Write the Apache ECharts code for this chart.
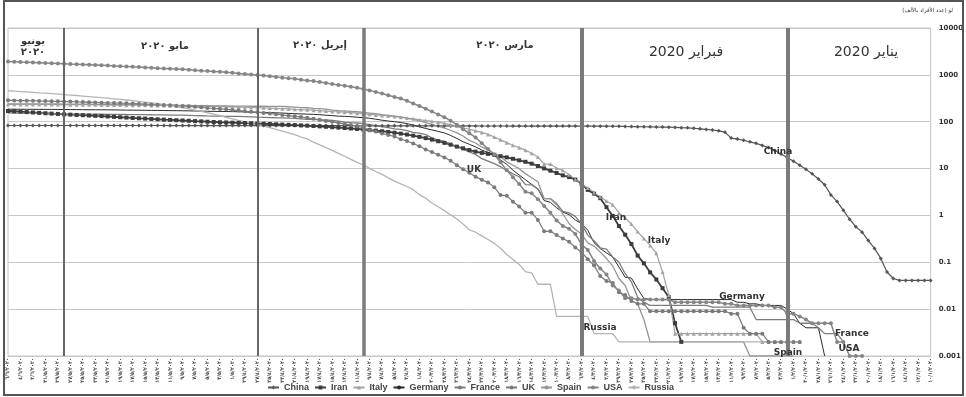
<!DOCTYPE html>
<html>
<head>
<meta charset="utf-8">
<script src="https://cdn.jsdelivr.net/npm/echarts@6/dist/echarts.min.js"></script>
<style>
  html, body { margin: 0; padding: 0; background: #fff; }
  #chart { width: 966px; height: 397px; }
</style>
</head>
<body>
<div id="chart"></div>
<script>
// cumulative confirmed cases, thousands, daily from 10 Jan 2020 to 6 Jun 2020 (149 days)
const START = new Date(2020, 0, 10);
const DAYS = 149;

const china = [
  // Jan 10-31
  0.041, 0.041, 0.041, 0.041, 0.041, 0.041, 0.045, 0.062, 0.121, 0.198, 0.291, 0.44, 0.571, 0.83, 1.287, 1.975, 2.744, 4.515, 5.974, 7.711, 9.692, 11.79,
  // Feb
  14.38, 17.21, 20.44, 24.32, 28.02, 31.16, 34.55, 37.2, 40.17, 42.64, 44.65, 59.8, 63.85, 66.49, 68.5, 70.55, 72.44, 74.19, 74.58, 75.47, 76.29, 76.94, 77.15, 77.66, 78.06, 78.5, 78.82, 79.25, 79.82,
  // Mar
  80.03, 80.15, 80.27, 80.41, 80.55, 80.65, 80.7, 80.74, 80.75, 80.78, 80.79, 80.81, 80.82, 80.84, 80.86, 80.88, 80.89, 80.93, 80.97, 81.01, 81.05, 81.09, 81.17, 81.22, 81.29, 81.34, 81.39, 81.44, 81.47, 81.52, 81.55,
  // Apr
  81.59, 81.62, 81.64, 81.67, 81.71, 81.74, 81.8, 81.87, 81.91, 81.95, 82.05, 82.16, 82.25, 82.3, 82.34, 82.37, 82.69, 82.72, 82.74, 82.75, 82.76, 82.79, 82.8, 82.8, 82.82, 82.83, 82.83, 82.84, 82.86, 82.86,
  // May
  82.87, 82.88, 82.88, 82.88, 82.88, 82.89, 82.89, 82.89, 82.9, 82.92, 82.92, 82.93, 82.93, 82.93, 82.94, 82.95, 82.95, 82.96, 82.97, 82.97, 82.97, 82.97, 82.99, 82.99, 82.99, 83.0, 83.0, 83.0, 83.0, 83.02, 83.02,
  // Jun 1-6
  83.02, 83.02, 83.03, 83.03, 83.03, 83.04
];

const iran = [
  null, null, null, null, null, null, null, null, null, null, null, null, null, null, null, null, null, null, null, null, null, null,
  null, null, null, null, null, null, null, null, null, null, null, null, null, null, null, null, null, null,
  0.002, 0.005, 0.018, 0.028, 0.043, 0.061, 0.095, 0.139, 0.245, 0.388, 0.593,
  0.978, 1.501, 2.336, 2.922, 3.513, 4.747, 5.823, 6.566, 7.161, 8.042, 9.0, 10.08, 11.36, 12.73, 13.94, 14.99, 16.17, 17.36, 18.41, 19.64, 20.61, 21.64, 23.05, 24.81, 27.02, 29.41, 32.33, 35.41, 38.31, 41.5, 44.61,
  47.59, 50.47, 53.18, 55.74, 58.23, 60.5, 62.59, 64.59, 66.22, 68.19, 70.03, 71.69, 73.3, 74.88, 76.39, 78.0, 79.49, 80.87, 82.21, 83.51, 84.8, 86.0, 87.03, 88.19, 89.33, 90.48, 91.47, 92.58, 93.66, 94.64,
  95.65, 96.45, 97.42, 98.65, 99.97, 101.7, 103.1, 104.7, 106.2, 107.6, 109.3, 110.8, 112.7, 114.5, 116.6, 118.4, 120.2, 122.5, 124.6, 126.9, 129.3, 131.7, 133.5, 135.7, 137.7, 139.5, 141.6, 143.8, 146.7, 149.0, 151.5,
  154.4, 157.6, 160.7, 164.3, 167.2, 169.4
];

const italy = [
  null, null, null, null, null, null, null, null, null, null, null, null, null, null, null, null, null, null, null, null, null, 0.002,
  0.002, 0.002, 0.002, 0.002, 0.002, 0.002, 0.003, 0.003, 0.003, 0.003, 0.003, 0.003, 0.003, 0.003, 0.003, 0.003, 0.003, 0.003, 0.003, 0.003, 0.02, 0.062, 0.155, 0.229, 0.322, 0.453, 0.655, 0.888, 1.128,
  1.694, 2.036, 2.502, 3.089, 3.858, 4.636, 5.883, 7.375, 9.172, 10.15, 12.46, 12.46, 17.66, 21.16, 24.75, 27.98, 31.51, 35.71, 41.04, 47.02, 53.58, 59.14, 63.93, 69.18, 74.39, 80.59, 86.5, 92.47, 97.69, 101.7, 105.8,
  110.6, 115.2, 119.8, 124.6, 128.9, 132.5, 135.6, 139.4, 143.6, 147.6, 152.3, 156.4, 159.5, 162.5, 165.2, 168.9, 172.4, 175.9, 179.0, 181.2, 184.0, 187.3, 190.0, 193.0, 195.4, 197.7, 199.4, 201.5, 203.6, 205.5,
  207.4, 209.3, 210.7, 211.9, 213.0, 214.5, 215.9, 217.2, 218.3, 219.1, 219.8, 221.2, 222.1, 223.1, 223.9, 224.8, 225.4, 225.9, 226.7, 227.4, 228.0, 228.7, 229.3, 229.9, 230.2, 230.6, 231.1, 231.7, 232.2, 232.7, 233.0,
  233.2, 233.5, 233.8, 234.0, 234.5, 234.8
];

const germany = [
  null, null, null, null, null, null, null, null, null, null, null, null, null, null, null, null, null, 0.001, 0.004, 0.004, 0.004, 0.005,
  0.008, 0.01, 0.012, 0.012, 0.012, 0.012, 0.013, 0.013, 0.014, 0.014, 0.016, 0.016, 0.016, 0.016, 0.016, 0.016, 0.016, 0.016, 0.016, 0.016, 0.016, 0.016, 0.016, 0.016, 0.017, 0.027, 0.046, 0.048, 0.079,
  0.13, 0.159, 0.196, 0.262, 0.482, 0.67, 0.799, 1.04, 1.176, 1.457, 1.908, 2.078, 3.675, 4.585, 5.795, 7.272, 9.257, 12.33, 15.32, 19.85, 22.21, 24.87, 29.06, 32.99, 37.32, 43.94, 50.87, 57.7, 62.1, 66.89, 71.81,
  77.87, 84.79, 91.16, 96.09, 100.1, 103.4, 107.7, 113.3, 118.2, 122.2, 124.9, 127.9, 130.1, 131.4, 134.8, 137.7, 141.4, 143.3, 145.2, 147.1, 148.3, 150.6, 153.1, 155.0, 156.5, 157.8, 158.8, 159.9, 161.5, 163.0,
  164.1, 165.0, 165.7, 166.2, 167.0, 168.2, 169.4, 170.6, 171.3, 171.9, 172.6, 173.2, 174.1, 174.5, 175.2, 175.8, 176.4, 176.6, 177.8, 178.5, 179.0, 179.7, 180.0, 180.3, 180.6, 181.2, 181.5, 182.2, 182.9, 183.2, 183.4,
  183.6, 183.9, 184.1, 184.5, 184.9, 185.5
];

const france = [
  null, null, null, null, null, null, null, null, null, null, null, null, null, null, 0.002, 0.003, 0.003, 0.003, 0.004, 0.005, 0.005, 0.005,
  0.006, 0.006, 0.006, 0.006, 0.006, 0.006, 0.006, 0.011, 0.011, 0.011, 0.011, 0.011, 0.011, 0.011, 0.012, 0.012, 0.012, 0.012, 0.012, 0.012, 0.012, 0.012, 0.012, 0.012, 0.014, 0.018, 0.038, 0.057, 0.1,
  0.13, 0.191, 0.204, 0.288, 0.38, 0.656, 0.957, 1.134, 1.217, 1.794, 2.293, 2.293, 3.681, 4.496, 4.532, 6.683, 7.715, 9.124, 10.97, 12.76, 14.46, 16.24, 20.12, 22.62, 25.6, 29.55, 33.4, 38.11, 40.71, 45.17, 52.83,
  56.9, 59.1, 64.3, 68.6, 70.5, 74.4, 78.2, 82.0, 86.3, 90.7, 93.8, 95.4, 98.0, 103.3, 106.2, 108.8, 110.0, 112.6, 113.0, 114.7, 118.0, 119.2, 120.6, 121.4, 122.6, 124.1, 125.0, 127.1, 128.3, 129.4,
  130.2, 130.2, 131.3, 131.9, 132.9, 134.0, 135.1, 137.2, 137.8, 138.4, 138.9, 139.5, 140.2, 140.7, 141.4, 141.9, 142.3, 142.4, 142.9, 143.4, 143.8, 144.2, 144.6, 144.9, 145.3, 145.6, 145.8, 146.1, 148.2, 149.1, 149.7,
  151.3, 151.8, 152.4, 153.1, 153.6, 154.2
];

const uk = [
  null, null, null, null, null, null, null, null, null, null, null, null, null, null, null, null, null, null, null, null, null, 0.002,
  0.002, 0.002, 0.002, 0.002, 0.002, 0.003, 0.003, 0.003, 0.004, 0.008, 0.008, 0.009, 0.009, 0.009, 0.009, 0.009, 0.009, 0.009, 0.009, 0.009, 0.009, 0.009, 0.009, 0.009, 0.013, 0.013, 0.015, 0.02, 0.023,
  0.036, 0.04, 0.051, 0.086, 0.116, 0.164, 0.207, 0.274, 0.322, 0.384, 0.459, 0.459, 0.802, 1.144, 1.145, 1.551, 1.96, 2.642, 2.716, 4.014, 5.067, 5.745, 6.726, 8.164, 9.64, 11.81, 14.75, 17.31, 19.78, 22.45, 25.48,
  29.87, 34.17, 38.69, 42.48, 48.44, 52.28, 55.95, 61.47, 65.87, 74.61, 79.87, 85.21, 89.57, 94.85, 99.48, 104.1, 109.8, 115.3, 121.2, 125.9, 130.2, 134.6, 139.2, 144.6, 149.6, 154.0, 158.3, 162.4, 166.4, 172.5,
  178.7, 183.5, 187.8, 191.8, 196.2, 202.4, 208.0, 212.6, 216.5, 220.4, 224.3, 227.7, 231.0, 234.4, 238.0, 241.5, 245.0, 247.7, 249.6, 250.9, 252.2, 255.5, 258.5, 260.9, 262.5, 266.6, 268.6, 270.5, 272.6, 274.2, 276.2,
  277.7, 279.9, 281.7, 281.7, 284.9, 286.3
];

const spain = [
  null, null, null, null, null, null, null, null, null, null, null, null, null, null, null, null, null, null, null, null, null, null,
  0.001, 0.001, 0.001, 0.001, 0.001, 0.001, 0.001, 0.001, 0.002, 0.002, 0.002, 0.002, 0.002, 0.002, 0.002, 0.002, 0.002, 0.002, 0.002, 0.002, 0.002, 0.002, 0.002, 0.002, 0.006, 0.013, 0.015, 0.032, 0.045,
  0.084, 0.12, 0.165, 0.222, 0.259, 0.4, 0.5, 0.673, 1.073, 1.695, 2.277, 2.277, 5.232, 6.391, 7.798, 9.942, 11.75, 13.91, 17.96, 20.41, 25.37, 28.6, 35.14, 39.89, 49.52, 57.79, 65.72, 73.24, 80.11, 87.96, 95.92,
  104.1, 112.1, 119.2, 126.2, 131.6, 136.7, 141.9, 148.2, 153.2, 158.3, 163.0, 166.8, 170.1, 172.5, 177.6, 184.9, 190.8, 191.7, 198.7, 200.2, 204.2, 208.4, 213.0, 213.2, 213.4, 213.6, 213.8, 214.0, 214.3, 214.6,
  215.2, 216.6, 217.5, 218.0, 219.3, 220.3, 221.4, 222.9, 223.6, 224.4, 227.4, 228.0, 228.7, 229.5, 230.2, 230.7, 230.7, 231.6, 232.0, 232.6, 233.0, 234.8, 235.3, 235.8, 235.8, 236.3, 236.3, 237.9, 238.6, 239.2, 239.5,
  239.6, 239.9, 240.3, 240.7, 241.0, 241.3
];

const usa = [
  null, null, null, null, null, null, null, null, null, null, null, 0.001, 0.001, 0.001, 0.002, 0.002, 0.005, 0.005, 0.005, 0.005, 0.006, 0.007,
  0.008, 0.008, 0.011, 0.011, 0.012, 0.012, 0.012, 0.012, 0.012, 0.012, 0.013, 0.013, 0.014, 0.014, 0.014, 0.014, 0.014, 0.014, 0.014, 0.014, 0.016, 0.016, 0.016, 0.016, 0.016, 0.016, 0.017, 0.017, 0.025,
  0.032, 0.055, 0.074, 0.107, 0.184, 0.237, 0.403, 0.519, 0.594, 0.782, 1.147, 1.586, 2.219, 2.978, 3.212, 4.679, 6.512, 9.169, 13.66, 20.03, 26.03, 34.86, 46.09, 56.71, 68.84, 86.66, 105.3, 124.7, 143.0, 164.6, 189.6,
  216.7, 245.5, 278.5, 312.2, 337.1, 368.2, 398.8, 432.1, 466.0, 500.4, 530.0, 557.6, 582.6, 609.5, 639.7, 671.3, 702.2, 735.1, 759.8, 787.8, 825.0, 842.6, 869.2, 905.4, 938.2, 965.8, 988.2, 1012.6, 1039.9, 1069.4,
  1103.5, 1132.5, 1158.0, 1180.4, 1204.4, 1229.3, 1257.0, 1283.9, 1309.6, 1329.3, 1347.9, 1369.4, 1390.4, 1417.8, 1442.8, 1467.8, 1486.8, 1508.3, 1528.6, 1551.9, 1577.1, 1600.9, 1622.6, 1643.2, 1662.3, 1680.9, 1699.2, 1721.9, 1747.1, 1770.2, 1790.2,
  1811.0, 1831.8, 1851.5, 1872.7, 1897.8, 1920.1
];

const russia = [
  null, null, null, null, null, null, null, null, null, null, null, null, null, null, null, null, null, null, null, null, null, 0.002,
  0.002, 0.002, 0.002, 0.002, 0.002, 0.002, 0.002, 0.002, 0.002, 0.002, 0.002, 0.002, 0.002, 0.002, 0.002, 0.002, 0.002, 0.002, 0.002, 0.002, 0.002, 0.002, 0.002, 0.002, 0.002, 0.002, 0.002, 0.002, 0.002,
  0.003, 0.003, 0.003, 0.003, 0.007, 0.007, 0.007, 0.007, 0.007, 0.007, 0.034, 0.034, 0.034, 0.059, 0.063, 0.09, 0.114, 0.147, 0.199, 0.253, 0.306, 0.367, 0.438, 0.495, 0.658, 0.84, 1.036, 1.264, 1.534, 1.836, 2.337,
  2.777, 3.548, 4.149, 4.731, 5.389, 6.343, 7.497, 8.672, 10.13, 11.92, 13.58, 15.77, 18.33, 21.1, 24.49, 27.94, 32.01, 36.79, 42.85, 47.12, 52.76, 58.0, 62.77, 68.62, 74.59, 80.95, 87.15, 93.56, 99.4, 106.5,
  114.4, 124.1, 134.7, 145.3, 155.4, 165.9, 177.2, 187.9, 198.7, 209.7, 221.3, 232.2, 242.3, 252.2, 262.8, 272.0, 281.8, 290.7, 299.9, 308.7, 317.6, 326.4, 335.9, 344.5, 353.4, 362.3, 370.7, 379.1, 387.6, 396.6, 405.8,
  414.3, 423.2, 431.7, 440.5, 449.3, 458.1
];

// month separators (category index) and y tick labels
const monthBreaks = [23, 56, 91, 108, 139];
const yTicks = ['0.001', '0.01', '0.1', '1', '10', '100', '1000', '10000'];

const AR = '٠١٢٣٤٥٦٧٨٩';
const toAr = s => String(s).replace(/\d/g, d => AR[d]);

const dates = [];
for (let i = 0; i < DAYS; i++) {
  const d = new Date(START.getTime() + i * 86400000);
  dates.push(toAr(d.getDate() + '/' + (d.getMonth() + 1) + '/' + d.getFullYear()));
}

const FONT = 'DejaVu Sans';

function line(name, data, color, symbol, size, width) {
  return {
    name: name,
    type: 'line',
    data: data,
    color: color,
    symbol: symbol,
    symbolSize: size,
    showSymbol: symbol !== 'none',
    showAllSymbol: true,
    connectNulls: false,
    lineStyle: { width: width, color: color },
    itemStyle: { color: color },
    emphasis: { disabled: true }
  };
}

const series = [
  line('China', china, '#555555', 'diamond', 4, 1.2),
  line('Iran', iran, '#3c3c3c', 'rect', 4, 1.8),
  line('Italy', italy, '#a3a3a3', 'triangle', 4, 1.2),
  line('Germany', germany, '#2a2a2a', 'none', 0, 1),
  line('France', france, '#7d7d7d', 'none', 0, 1.3),
  line('UK', uk, '#7a7a7a', 'circle', 4, 1.2),
  line('Spain', spain, '#959595', 'none', 0, 1.3),
  line('USA', usa, '#858585', 'circle', 4, 1.5),
  line('Russia', russia, '#b4b4b4', 'none', 0, 1.3)
];

// vertical month separators drawn on the China series
series[0].markLine = {
  silent: true,
  symbol: 'none',
  label: { show: false },
  z: 10,
  data: monthBreaks.map((b, i) => ({
    xAxis: b,
    lineStyle: { color: i < 3 ? '#7b7b7b' : '#666666', width: i < 2 ? 4 : (i === 2 ? 3.5 : 2), type: 'solid' }
  }))
};

function txt(x, y, text, size, weight, align) {
  return {
    type: 'text', x: x, y: y, z: 100,
    style: { text: text, font: (weight || 'bold') + ' ' + size + 'px "' + FONT + '"', fill: '#333', align: align || 'center', verticalAlign: 'middle' }
  };
}

const chart = echarts.init(document.getElementById('chart'));
chart.setOption({
  animation: false,
  textStyle: { fontFamily: FONT },
  grid: {
    left: 8, right: 34, top: 28, bottom: 41,
    show: true, borderColor: '#c4c4c4', borderWidth: 1
  },
  legend: {
    bottom: 0, left: 262,
    itemWidth: 11, itemHeight: 5, itemGap: 5,
    textStyle: { fontSize: 9, fontWeight: 'bold', color: '#444', fontFamily: 'Liberation Sans' },
    data: series.map(s => s.name)
  },
  xAxis: {
    type: 'category',
    data: dates,
    inverse: true,
    boundaryGap: false,
    axisLine: { show: false },
    axisTick: { show: false },
    splitLine: { show: false },
    axisLabel: {
      interval: 1, rotate: 90, fontSize: 5.5, fontWeight: 'bold', color: '#444', margin: 2,
      fontFamily: '"DejaVu Sans Condensed", "DejaVu Sans"'
    }
  },
  yAxis: {
    type: 'log',
    logBase: 10,
    min: 0.001,
    max: 10000,
    position: 'right',
    axisLine: { show: false },
    axisTick: { show: false },
    splitLine: { lineStyle: { color: '#c8c8c8', width: 1 } },
    axisLabel: {
      fontSize: 7, fontWeight: 'bold', color: '#333', margin: 8,
      formatter: v => {
        const s = yTicks.find(t => Math.abs(parseFloat(t) - v) < v * 1e-6);
        return s || '';
      }
    }
  },
  series: series,
  graphic: [
    { type: 'rect', z: 100, shape: { x: 4, y: 1, width: 959, height: 394 }, style: { fill: 'none', stroke: '#555', lineWidth: 2 } },
    txt(953, 11, 'لو (عدد الأفراد بالألف)', 5.5, 'normal', 'right'),
    // month titles
    txt(33, 41, 'يونيو', 10),
    txt(33, 52, toAr('2020'), 10),
    txt(165, 46, 'مايو ' + toAr('2020'), 10),
    txt(320, 45, 'إبريل ' + toAr('2020'), 10),
    txt(505, 45, 'مارس ' + toAr('2020'), 10),
    txt(686, 52, 'فبراير 2020', 14, 'normal'),
    txt(866, 52, 'يناير 2020', 14, 'normal'),
    // series call-outs
    txt(778, 152, 'China', 9),
    txt(474, 170, 'UK', 9),
    txt(616, 218, 'Iran', 9),
    txt(659, 241, 'Italy', 9),
    txt(742, 297, 'Germany', 9),
    txt(600, 328, 'Russia', 9),
    txt(852, 334, 'France', 9),
    txt(849, 349, 'USA', 9),
    txt(788, 353, 'Spain', 9)
  ]
});
</script>
</body>
</html>
